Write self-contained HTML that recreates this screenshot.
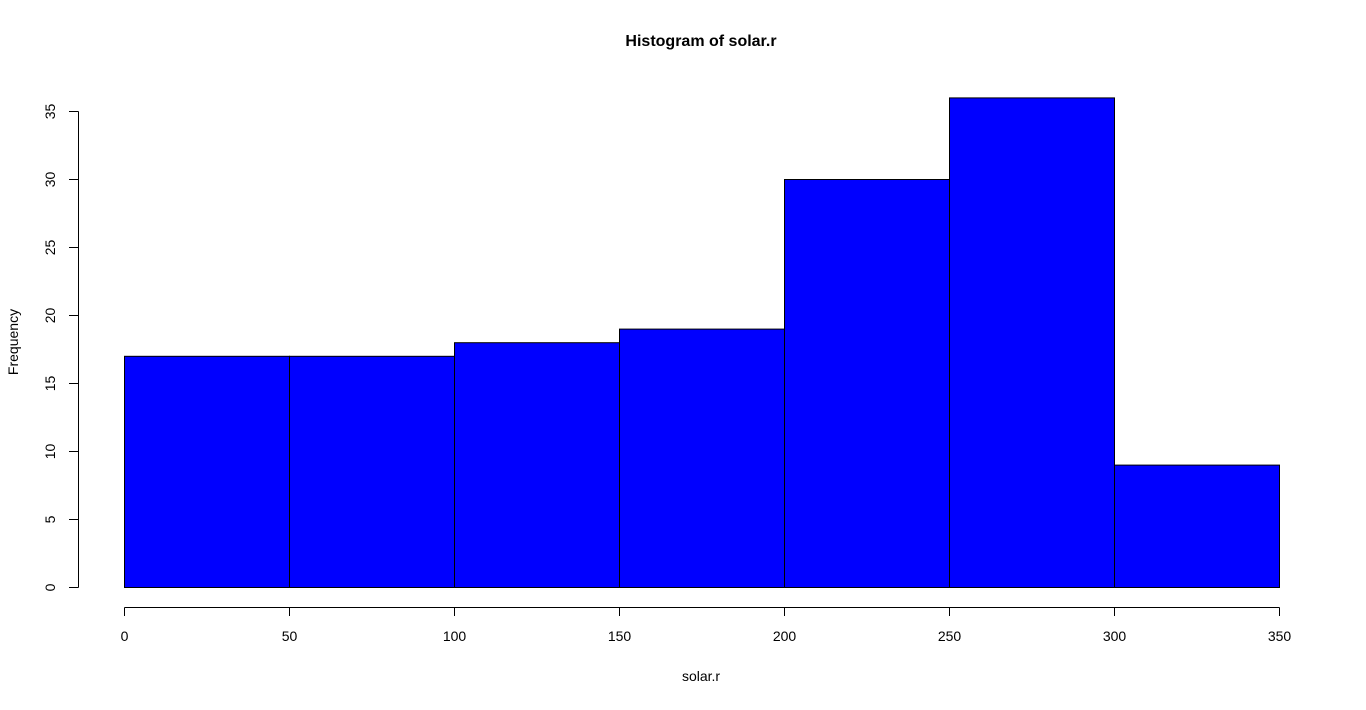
<!DOCTYPE html>
<html><head><meta charset="utf-8"><style>
body{margin:0;background:#fff}
svg text{font-family:"Liberation Sans",Arial,sans-serif;fill:#000}
</style></head><body>
<svg id="chart" width="1366" height="705" xmlns="http://www.w3.org/2000/svg">
<text x="701" y="46" font-size="16" font-weight="bold" text-anchor="middle">Histogram of solar.r</text>
<text x="701" y="681" font-size="14" text-anchor="middle">solar.r</text>
<text x="18" y="342" font-size="14" text-anchor="middle" transform="rotate(-90 18 342)">Frequency</text>
<g id="bars"></g><g id="xaxis"></g><g id="yaxis"></g>
</svg>
<script>
const breaks=[0,50,100,150,200,250,300,350];
const counts=[17,17,18,19,30,36,9];
const xTicks=[0,50,100,150,200,250,300,350];
const yTicks=[0,5,10,15,20,25,30,35];
const NS="http://www.w3.org/2000/svg";
const xs=v=>124.5+v*(1279.5-124.5)/350;
const ys=v=>587.5-v*(587.5-111.5)/35;
function mk(t,a,p){const e=document.createElementNS(NS,t);for(const k in a)e.setAttribute(k,a[k]);p.appendChild(e);return e;}
const gb=document.getElementById('bars');
counts.forEach((c,i)=>{
 const r=mk('rect',{x:xs(breaks[i]),y:ys(c),width:xs(breaks[i+1])-xs(breaks[i]),height:ys(0)-ys(c),fill:'#0000ff',stroke:'#000','stroke-width':1},gb);
 
 
});
const gx=document.getElementById('xaxis');


mk('line',{x1:xs(xTicks[0]),x2:xs(xTicks[xTicks.length-1]),y1:607.5,y2:607.5,stroke:'#000'},gx);
xTicks.forEach(t=>{
 mk('line',{x1:xs(t),x2:xs(t),y1:607.5,y2:616,stroke:'#000'},gx);
 const tx=mk('text',{x:xs(t),y:641,'font-size':14,'text-anchor':'middle'},gx);
 tx.textContent=t;
 
 
});
const gy=document.getElementById('yaxis');


mk('line',{x1:78.5,x2:78.5,y1:ys(yTicks[0]),y2:ys(yTicks[yTicks.length-1]),stroke:'#000'},gy);
yTicks.forEach(t=>{
 mk('line',{x1:69,x2:78.5,y1:ys(t),y2:ys(t),stroke:'#000'},gy);
 const tx=mk('text',{x:55,y:ys(t),'font-size':14,'text-anchor':'middle',transform:`rotate(-90 55 ${ys(t)})`},gy);
 tx.textContent=t;
 
 
});
</script>
</body></html>
